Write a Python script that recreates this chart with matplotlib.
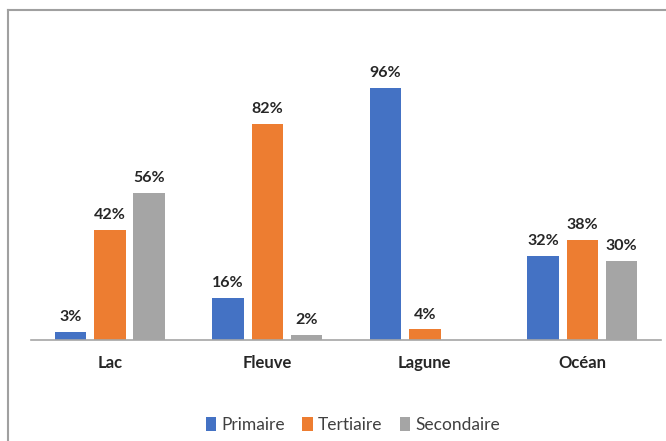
import numpy as np
import matplotlib.pyplot as plt
from matplotlib.lines import Line2D

categories = ['Lac', 'Fleuve', 'Lagune', 'Océan']
series = ['Primaire', 'Tertiaire', 'Secondaire']
primaire = [3, 16, 96, 32]
tertiaire = [42, 82, 4, 38]
secondaire = [56, 2, np.nan, 30]
colors = ['#4472C4', '#ED7D31', '#A5A5A5']

plt.rcParams['font.family'] = ['Lato', 'DejaVu Sans']

fig = plt.figure(figsize=(6.66, 4.41), dpi=100)
ax = fig.add_axes([31 / 666, 101 / 441, 630 / 666, 263 / 441])

x = np.arange(len(categories))
width = 0.2
step = 0.25
for i, (name, vals) in enumerate(zip(series, [primaire, tertiaire, secondaire])):
    pos = x + (i - 1) * step
    ax.bar(pos, vals, width, color=colors[i], label=name)
    for xp, v in zip(pos, vals):
        if np.isnan(v):
            continue
        ax.text(xp, v + 3, f'{v:.0f}%', ha='center', va='bottom',
                fontsize=11.5, fontweight='bold', color='#262626')

ax.set_xlim(-0.5, 3.5)
ax.set_ylim(0, 100)
ax.set_xticks(x)
ax.set_xticklabels(categories, fontsize=12, fontweight='bold', color='#262626')
ax.tick_params(axis='x', length=0, pad=11)
ax.set_yticks([])
for s in ['top', 'right', 'left']:
    ax.spines[s].set_visible(False)
ax.spines['bottom'].set_color('#A6A6A6')
ax.spines['bottom'].set_linewidth(1.2)

fig.legend(loc='center', bbox_to_anchor=(0.53, 16 / 441), ncol=3, frameon=False,
           fontsize=12.5, handlelength=0.6, handleheight=0.9, handletextpad=0.3,
           columnspacing=1.0, labelcolor='#404040')

# chart border (top and left edges visible)
fig.add_artist(Line2D([8 / 666, 1.0], [1 - 10 / 441, 1 - 10 / 441],
                      transform=fig.transFigure, color='#A0A0A0', lw=1.5))
fig.add_artist(Line2D([8 / 666, 8 / 666], [0, 1 - 10 / 441],
                      transform=fig.transFigure, color='#A0A0A0', lw=1.5))

fig.savefig('out.png', dpi=100)
